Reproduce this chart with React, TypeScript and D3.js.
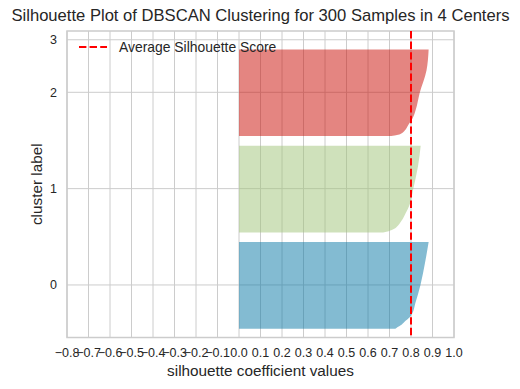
import React, { useEffect, useRef } from 'react'
import * as d3 from 'd3'

// silhouette profile per cluster: [sample rank inside cluster, coefficient]
const cluster0 = [
  [0, 0.727], [2, 0.738], [4, 0.752], [8, 0.77], [13, 0.794], [17, 0.805],
  [29, 0.82], [50, 0.844], [75, 0.865], [99, 0.882],
]
const cluster1 = [
  [0, 0.67], [1, 0.69], [2, 0.7], [4, 0.72], [6, 0.732], [13, 0.755],
  [22, 0.775], [32, 0.794], [49, 0.81], [76, 0.833], [99, 0.845],
]
const cluster2 = [
  [0, 0.7], [1, 0.73], [3, 0.755], [6, 0.77], [13, 0.788], [20, 0.807],
  [30, 0.822], [49, 0.84], [75, 0.872], [99, 0.882],
]
const cluster3: number[][] = []

const clusterProfiles = [cluster0, cluster1, cluster2, cluster3]
const clusterSizes = [100, 100, 100, 0]
const clusterLabels = ['0', '1', '2', '3']
const clusterColors = ['#0877a6', '#9fc377', '#ca0b03', '#a50258']
const xTicks = [-0.8, -0.7, -0.6, -0.5, -0.4, -0.3, -0.2, -0.1, 0.0, 0.1, 0.2, 0.3, 0.4, 0.5, 0.6, 0.7, 0.8, 0.9, 1.0]
const avgScore = 0.8
const nSamples = 300

const W = 520
const H = 389
const font = '"Liberation Sans", Arial, sans-serif'
const ink = '#262626'

const App = () => {
  const svg = useRef(null)

  useEffect(() => {
    const d3svg = d3.select(svg.current)
    d3svg.selectAll('*').remove()

    const xScale = d3.scaleLinear().domain([-0.8, 1.0]).range([67, 454])
    const yMax = nSamples + (clusterSizes.length + 1) * 10
    const yScale = d3.scaleLinear().domain([0, yMax]).range([337.5, 31])

    // yellowbrick style stacking: 10 unit gap between clusters
    const yLowers: number[] = []
    const tickPos: number[] = []
    let yLower = 10
    clusterSizes.forEach(size => {
      yLowers.push(yLower)
      tickPos.push(yLower + 0.5 * size)
      yLower = yLower + size + 10
    })

    // grid
    const grid = d3svg.append('g')
    grid
      .selectAll('.vgrid')
      .data(xTicks)
      .enter()
      .append('line')
      .attr('x1', d => xScale(d))
      .attr('x2', d => xScale(d))
      .attr('y1', yScale(0))
      .attr('y2', yScale(yMax))
      .attr('stroke', '#cccccc')
      .attr('stroke-width', 1)
    grid
      .selectAll('.hgrid')
      .data(tickPos)
      .enter()
      .append('line')
      .attr('x1', xScale(-0.8))
      .attr('x2', xScale(1.0))
      .attr('y1', d => yScale(d))
      .attr('y2', d => yScale(d))
      .attr('stroke', '#cccccc')
      .attr('stroke-width', 1)

    // silhouettes
    clusterProfiles.forEach((profile, i) => {
      if (profile.length === 0) return
      const area = d3
        .area<number[]>()
        .curve(d3.curveMonotoneY)
        .y(d => yScale(yLowers[i] + d[0]))
        .x0(xScale(0))
        .x1(d => xScale(d[1]))
      d3svg
        .append('path')
        .datum(profile)
        .attr('d', area)
        .attr('fill', clusterColors[i])
        .attr('fill-opacity', 0.5)
    })

    // frame
    d3svg
      .append('rect')
      .attr('x', xScale(-0.8))
      .attr('y', yScale(yMax))
      .attr('width', xScale(1.0) - xScale(-0.8))
      .attr('height', yScale(0) - yScale(yMax))
      .attr('fill', 'none')
      .attr('stroke', '#cccccc')
      .attr('stroke-width', 1.5)

    // average line
    d3svg
      .append('line')
      .attr('x1', xScale(avgScore))
      .attr('x2', xScale(avgScore))
      .attr('y1', yScale(yMax))
      .attr('y2', yScale(0))
      .attr('stroke', '#ff0000')
      .attr('stroke-width', 2)
      .attr('stroke-dasharray', '7.4,3.2')

    // x tick labels
    d3svg
      .selectAll('.xtick')
      .data(xTicks)
      .enter()
      .append('text')
      .attr('x', d => xScale(d))
      .attr('y', 357)
      .attr('text-anchor', 'middle')
      .attr('font-family', font)
      .attr('font-size', 12.5)
      .attr('fill', ink)
      .text(d => d3.format('.1f')(d))

    // y tick labels
    d3svg
      .selectAll('.ytick')
      .data(tickPos)
      .enter()
      .append('text')
      .attr('x', 57)
      .attr('y', d => yScale(d) + 4.5)
      .attr('text-anchor', 'end')
      .attr('font-family', font)
      .attr('font-size', 12.5)
      .attr('fill', ink)
      .text((d, i) => clusterLabels[i])

    // axis labels + title
    d3svg
      .append('text')
      .attr('x', (xScale(-0.8) + xScale(1.0)) / 2)
      .attr('y', 376)
      .attr('text-anchor', 'middle')
      .attr('font-family', font)
      .attr('font-size', 15.3)
      .attr('fill', ink)
      .text('silhouette coefficient values')
    d3svg
      .append('text')
      .attr('transform', `translate(42, ${(yScale(0) + yScale(yMax)) / 2}) rotate(-90)`)
      .attr('text-anchor', 'middle')
      .attr('font-family', font)
      .attr('font-size', 15.3)
      .attr('fill', ink)
      .text('cluster label')
    d3svg
      .append('text')
      .attr('x', (xScale(-0.8) + xScale(1.0)) / 2)
      .attr('y', 21)
      .attr('text-anchor', 'middle')
      .attr('font-family', font)
      .attr('font-size', 16.6)
      .attr('fill', ink)
      .text('Silhouette Plot of DBSCAN Clustering for 300 Samples in 4 Centers')

    // legend, no frame
    d3svg
      .append('line')
      .attr('x1', 79)
      .attr('x2', 107)
      .attr('y1', 47)
      .attr('y2', 47)
      .attr('stroke', '#ff0000')
      .attr('stroke-width', 2)
      .attr('stroke-dasharray', '7.4,3.2')
    d3svg
      .append('text')
      .attr('x', 119)
      .attr('y', 52)
      .attr('font-family', font)
      .attr('font-size', 13.9)
      .attr('fill', ink)
      .text('Average Silhouette Score')
  }, [])

  return (
    <svg
      ref={svg}
      width={W}
      height={H}
      style={{ position: 'absolute', left: 0, top: 0, background: '#fff' }}
    ></svg>
  )
}

export default App
